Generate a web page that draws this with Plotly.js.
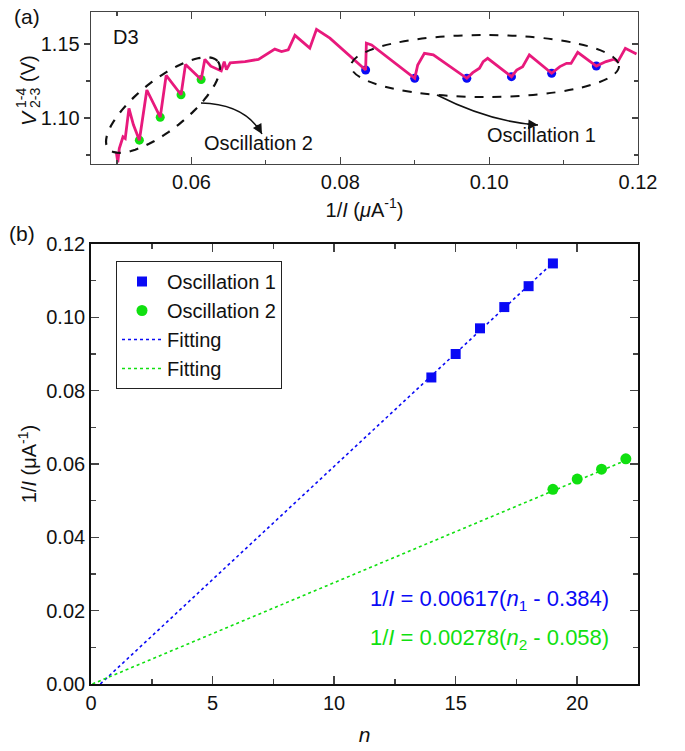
<!DOCTYPE html>
<html><head><meta charset="utf-8">
<script src="https://cdn.plot.ly/plotly-3.0.1.min.js"></script>
<style>html,body{margin:0;padding:0;background:#fff}#chart{width:685px;height:751px}</style>
</head><body><div id="chart"></div>
<script>
// ---- Panel (a) data: V(1-4, 2-3) vs 1/I ----
const curveX = [0.0499,0.0501,0.0503,0.0506,0.0508,0.0511,0.0516,0.0522,0.0530,0.0540,0.0558,0.0566,0.0586,0.0592,0.0613,0.0618,0.0626,0.0640,0.0644,0.0647,0.0652,0.0672,0.0690,0.0712,0.0721,0.0730,0.0739,0.0759,0.0768,0.0786,0.0834,0.0835,0.0842,0.0900,0.0904,0.0913,0.0925,0.0970,0.0978,0.0987,0.0992,0.0998,0.1030,0.1037,0.1045,0.1054,0.1084,0.1095,0.1104,0.1110,0.1119,0.1144,0.1157,0.1168,0.1173,0.1183,0.1191,0.1198];
const curveV = [1.0770,1.0700,1.0793,1.0839,1.0873,1.0862,1.1065,1.0954,1.0850,1.1189,1.1005,1.1288,1.1157,1.1362,1.1260,1.1396,1.1350,1.1318,1.1380,1.1327,1.1373,1.1380,1.1396,1.1465,1.1449,1.1461,1.1558,1.1472,1.1599,1.1539,1.1324,1.1505,1.1493,1.1268,1.1358,1.1437,1.1426,1.1268,1.1306,1.1336,1.1381,1.1403,1.1279,1.1324,1.1347,1.1426,1.1302,1.1347,1.1369,1.1369,1.1444,1.1351,1.1381,1.1397,1.1381,1.1471,1.1448,1.1432];
const osc1X = [0.0834,0.0900,0.0970,0.1030,0.1084,0.1144];
const osc1V = [1.1324,1.1268,1.1268,1.1279,1.1302,1.1351];
const osc2X = [0.0530,0.0558,0.0586,0.0613];
const osc2V = [1.0850,1.1005,1.1157,1.1260];

// ---- Panel (b) data: 1/I vs n ----
const osc1N = [14,15,16,17,18,19];
const osc1InvI = [0.0836,0.0900,0.0970,0.1028,0.1085,0.1147];
const osc2N = [19,20,21,22];
const osc2InvI = [0.0531,0.0559,0.0586,0.0614];
const fit1N = [0.384,19];
const fit1InvI = [0,0.1149];
const fit2N = [0.058,22];
const fit2InvI = [0,0.0610];

const PINK='#E8197C', BLUE='#0A0AF5', GREEN='#10E010';
const FONT='Liberation Sans, Arial, sans-serif';

const XA=[0.0465,0.12], YA=[1.0689,1.1716];
const L=91, R=638, TA=12, BA=164, BOT=684, H=672, W=547;
function pa(px,py){return [XA[0]+(px-L)/W*(XA[1]-XA[0]), YA[1]-(py-TA)/(BA-TA)*(YA[1]-YA[0])];}
function ppx(px){return (px-L)/W;}
function ppy(py){return (BOT-py)/H;}

let ell='';
{const cx=163,cy=105,a=70,b=25,u=[0.783,-0.623],v=[0.623,0.783];
 for(let i=0;i<=72;i++){const t=i/72*2*Math.PI;
  const px=cx+a*Math.cos(t)*u[0]+b*Math.sin(t)*v[0];
  const py=cy+a*Math.cos(t)*u[1]+b*Math.sin(t)*v[1];
  const d=pa(px,py); ell+=(i===0?'M':'L')+d[0]+','+d[1]+' ';}
 ell+='Z';}
function qpath(p0,c,p1){const a=pa(...p0),b=pa(...c),d=pa(...p1);return `M${a[0]},${a[1]} Q${b[0]},${b[1]} ${d[0]},${d[1]}`;}
const e1a=pa(351,97), e1b=pa(619,35);
const arr2End=pa(262,134), arr1End=pa(538,125);

const traces=[
 {x:osc2X,y:osc2V,xaxis:'x',yaxis:'y',mode:'markers',marker:{color:GREEN,size:9},showlegend:false,hoverinfo:'skip'},
 {x:osc1X,y:osc1V,xaxis:'x',yaxis:'y',mode:'markers',marker:{color:BLUE,size:9},showlegend:false,hoverinfo:'skip'},
 {x:curveX,y:curveV,xaxis:'x',yaxis:'y',mode:'lines',line:{color:PINK,width:2.8},showlegend:false,hoverinfo:'skip'},
 {x:[],y:[],xaxis:'x',yaxis:'y3',mode:'markers',showlegend:false,hoverinfo:'skip'},
 {x:osc1N,y:osc1InvI,xaxis:'x2',yaxis:'y2',mode:'markers',name:'Oscillation 1',marker:{symbol:'square',color:BLUE,size:10}},
 {x:osc2N,y:osc2InvI,xaxis:'x2',yaxis:'y2',mode:'markers',name:'Oscillation 2',marker:{symbol:'circle',color:GREEN,size:11}},
 {x:fit1N,y:fit1InvI,xaxis:'x2',yaxis:'y2',mode:'lines',name:'Fitting',line:{color:BLUE,width:1.6,dash:'dot'}},
 {x:fit2N,y:fit2InvI,xaxis:'x2',yaxis:'y2',mode:'lines',name:'Fitting',line:{color:GREEN,width:1.6,dash:'dot'}}
];

const tickFont={family:FONT,size:20,color:'#111'};
function ann(px,py,text,size,extra){return Object.assign({xref:'paper',yref:'paper',x:ppx(px),y:ppy(py),xanchor:'center',yanchor:'middle',text:text,showarrow:false,font:{family:FONT,size:size,color:'#111'}},extra||{});}
const layout={
 width:685,height:751,margin:{l:L,r:685-R,t:TA,b:751-BOT},
 paper_bgcolor:'#fff',plot_bgcolor:'#fff',font:{family:FONT,color:'#111'},
 showlegend:true,
 legend:{x:ppx(116),y:ppy(261),xanchor:'left',yanchor:'top',bgcolor:'#fff',bordercolor:'#222',borderwidth:1,
   font:{family:FONT,size:20,color:'#111'},tracegroupgap:0,itemwidth:40},
 xaxis:{domain:[0,1],anchor:'y',range:XA,dtick:0.02,tick0:0,tickformat:'.2f',ticks:'inside',ticklen:7,tickwidth:1.2,
   mirror:'ticks',showline:true,linecolor:'#444',linewidth:1.3,showgrid:false,zeroline:false,tickfont:tickFont,
   minor:{dtick:0.01,tick0:0,ticks:'inside',ticklen:4,tickwidth:1.2,showgrid:false},
   title:{text:'1/<i>I</i> (<i>μ</i>A<sup>-1</sup>)',font:{family:FONT,size:20},standoff:10}},
 yaxis:{domain:[(BOT-BA)/H,1],anchor:'x',range:YA,dtick:0.05,tick0:0,tickformat:'.2f',ticks:'outside',ticklen:6,tickwidth:1.2,
   showline:true,linecolor:'#444',linewidth:1.3,showgrid:false,zeroline:false,tickfont:tickFont,
   minor:{dtick:0.025,tick0:0,ticks:'outside',ticklen:4,tickwidth:1.2,showgrid:false}},
 yaxis3:{overlaying:'y',side:'right',anchor:'x',matches:'y',range:YA,dtick:0.05,tick0:0,ticks:'inside',ticklen:6,tickwidth:1.2,
   showticklabels:false,showline:true,linecolor:'#444',linewidth:1.3,showgrid:false,zeroline:false,
   minor:{dtick:0.025,tick0:0,ticks:'inside',ticklen:4,tickwidth:1.2,showgrid:false}},
 xaxis2:{domain:[0,1],anchor:'y2',range:[0,22.5],dtick:5,tick0:0,ticks:'inside',ticklen:8,tickwidth:1.5,
   mirror:'ticks',showline:true,linecolor:'#111',linewidth:1.8,showgrid:false,zeroline:false,tickfont:tickFont,
   minor:{dtick:2.5,tick0:0,ticks:'inside',ticklen:5,tickwidth:1.5,showgrid:false},
   title:{text:'<i>n</i>',font:{family:FONT,size:21},standoff:14}},
 yaxis2:{domain:[0,(BOT-244)/H],anchor:'x2',range:[0,0.12],dtick:0.02,tick0:0,tickformat:'.2f',ticks:'inside',ticklen:8,tickwidth:1.5,
   mirror:'ticks',showline:true,linecolor:'#111',linewidth:1.8,showgrid:false,zeroline:false,tickfont:tickFont,
   minor:{dtick:0.01,tick0:0,ticks:'inside',ticklen:5,tickwidth:1.5,showgrid:false},
   title:{text:'1/<i>I</i> (μA<sup>-1</sup>)',font:{family:FONT,size:20},standoff:4}},
 shapes:[
   {type:'circle',xref:'x',yref:'y',x0:e1a[0],x1:e1b[0],y0:e1a[1],y1:e1b[1],line:{color:'#111',width:2,dash:'dash'}},
   {type:'path',xref:'x',yref:'y',path:ell,line:{color:'#111',width:2.2,dash:'dash'}},
   {type:'path',xref:'x',yref:'y',path:qpath([201,103],[245,104],[262,134]),line:{color:'#111',width:1.5}},
   {type:'path',xref:'x',yref:'y',path:qpath([437,95],[490,122],[538,125]),line:{color:'#111',width:1.5}}
 ],
 annotations:[
   {xref:'x',yref:'y',x:arr2End[0],y:arr2End[1],ax:-6,ay:-10.5,text:'',showarrow:true,arrowhead:2,arrowsize:1.3,arrowwidth:1.5,arrowcolor:'#111',standoff:0},
   {xref:'x',yref:'y',x:arr1End[0],y:arr1End[1],ax:-12,ay:-0.8,text:'',showarrow:true,arrowhead:2,arrowsize:1.3,arrowwidth:1.5,arrowcolor:'#111',standoff:0},
   ann(27,17,'(a)',21),
   ann(22,233,'(b)',21),
   ann(126,37,'D3',20),
   ann(258,143,'Oscillation 2',20),
   ann(541,135,'Oscillation 1',20),
   ann(28,118,'<i>V</i>',21,{textangle:-90}),
   ann(21,98,'1-4',14,{textangle:-90}),
   ann(35,98,'2-3',14,{textangle:-90}),
   ann(28,69,'(V)',20,{textangle:-90}),
   ann(611,600,'1/<i>I</i> = 0.00617(<i>n</i><sub>1</sub> - 0.384)',22,{xanchor:'right',font:{family:FONT,size:22,color:BLUE}}),
   ann(611,639,'1/<i>I</i> = 0.00278(<i>n</i><sub>2</sub> - 0.058)',22,{xanchor:'right',font:{family:FONT,size:22,color:GREEN}})
 ]
};
Plotly.newPlot('chart',traces,layout,{staticPlot:true,displayModeBar:false});
</script></body></html>
